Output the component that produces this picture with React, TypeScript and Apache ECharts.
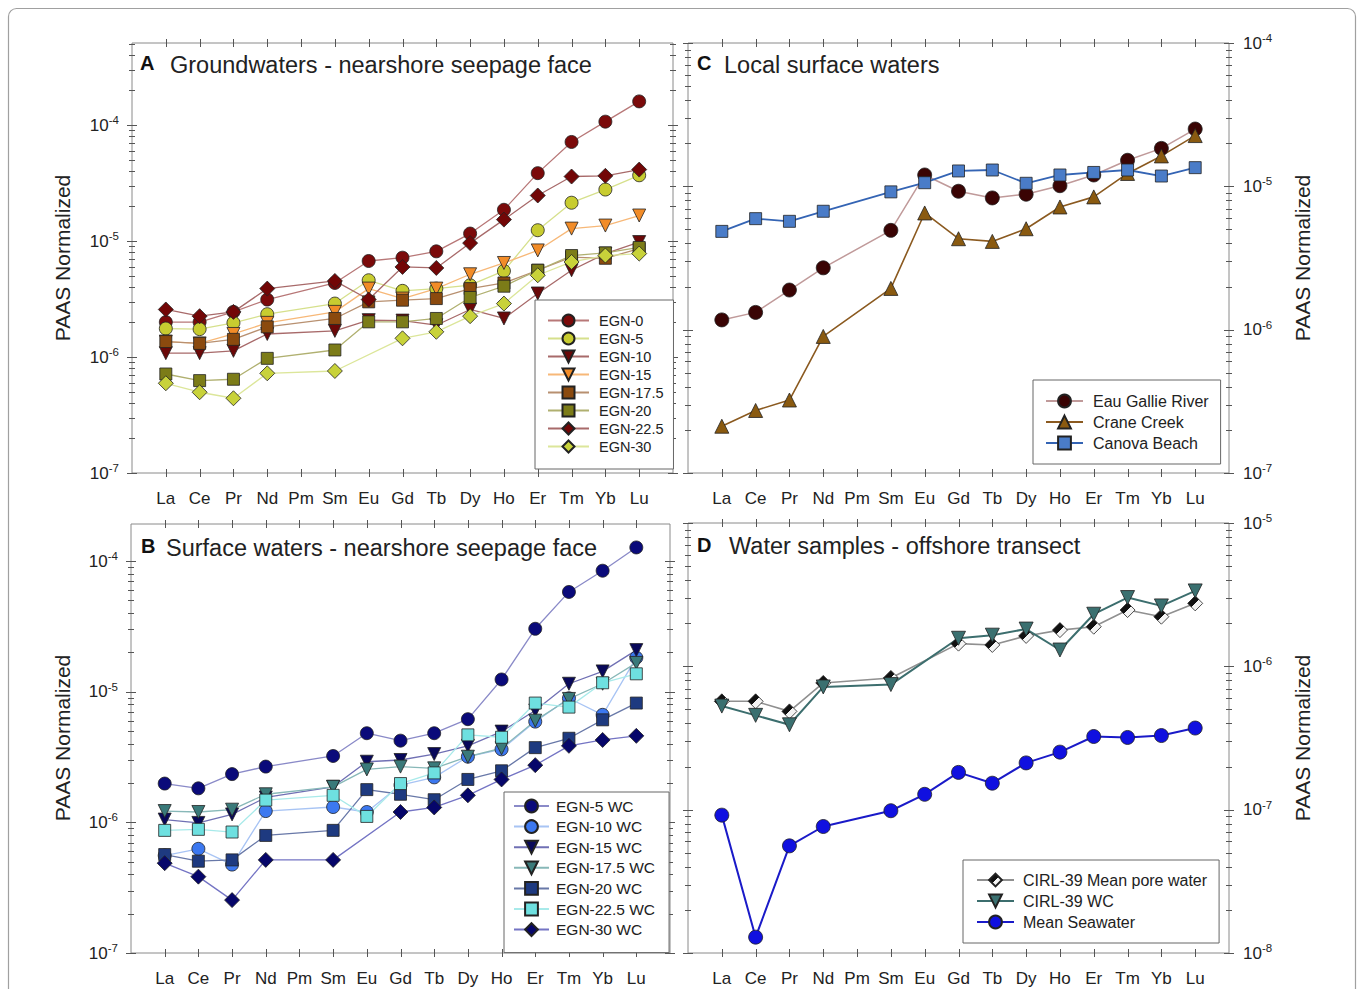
import React, { useEffect, useRef } from 'react';
import * as echarts from 'echarts';

const FONT = '"Liberation Sans", Arial, Helvetica, sans-serif';

const REE = ['La', 'Ce', 'Pr', 'Nd', 'Pm', 'Sm', 'Eu', 'Gd', 'Tb', 'Dy', 'Ho', 'Er', 'Tm', 'Yb', 'Lu'];

// Panel A - Groundwaters
const EGN_0 = [2.0e-6, 2.0e-6, 2.45e-6, 3.13e-6, null, 4.35e-6, 6.73e-6, 7.19e-6, 8.15e-6, 1.16e-5, 1.86e-5, 3.85e-5, 7.15e-5, 1.07e-4, 1.6e-4];
const EGN_5 = [1.76e-6, 1.74e-6, 1.97e-6, 2.34e-6, null, 2.89e-6, 4.59e-6, 3.72e-6, 3.89e-6, 4.16e-6, 5.52e-6, 1.24e-5, 2.14e-5, 2.78e-5, 3.69e-5];
const EGN_10 = [1.08e-6, 1.08e-6, 1.13e-6, 1.58e-6, null, 1.68e-6, 2.08e-6, 2.06e-6, 1.88e-6, 2.57e-6, 2.15e-6, 3.53e-6, 5.6e-6, 7.8e-6, 9.8e-6];
const EGN_15 = [1.36e-6, 1.31e-6, 1.58e-6, 1.97e-6, null, 2.45e-6, 3.89e-6, 3.19e-6, 3.89e-6, 5.17e-6, 6.47e-6, 8.3e-6, 1.28e-5, 1.36e-5, 1.66e-5];
const EGN_17_5 = [1.36e-6, 1.31e-6, 1.42e-6, 1.82e-6, null, 2.15e-6, 2.99e-6, 3.09e-6, 3.19e-6, 3.89e-6, 4.35e-6, 5.6e-6, 7.28e-6, 7.1e-6, 8.6e-6];
const EGN_20 = [7.14e-7, 6.26e-7, 6.43e-7, 9.74e-7, null, 1.15e-6, 2.01e-6, 2.01e-6, 2.15e-6, 3.26e-6, 4.08e-6, 5.6e-6, 7.5e-6, 7.9e-6, 8.8e-6];
const EGN_22_5 = [2.57e-6, 2.25e-6, 2.45e-6, 3.89e-6, null, 4.53e-6, 3.13e-6, 5.98e-6, 5.86e-6, 9.6e-6, 1.53e-5, 2.47e-5, 3.6e-5, 3.65e-5, 4.13e-5];
const EGN_30 = [5.94e-7, 4.97e-7, 4.41e-7, 7.24e-7, null, 7.58e-7, null, 1.45e-6, 1.65e-6, 2.25e-6, 2.89e-6, 5.07e-6, 6.6e-6, 7.5e-6, 7.8e-6];

// Panel B - Surface waters
const EGN_5_WC = [1.98e-6, 1.82e-6, 2.34e-6, 2.67e-6, null, 3.22e-6, 4.81e-6, 4.22e-6, 4.81e-6, 6.16e-6, 1.24e-5, 3.03e-5, 5.8e-5, 8.43e-5, 1.27e-4];
const EGN_10_WC = [5.57e-7, 6.27e-7, 4.75e-7, 1.22e-6, null, 1.31e-6, 1.2e-6, 1.93e-6, 2.21e-6, 3.18e-6, 3.62e-6, 5.9e-6, 8.9e-6, 6.65e-6, 1.82e-5];
const EGN_15_WC = [1.05e-6, 9.9e-7, 1.15e-6, 1.55e-6, null, 1.87e-6, 2.91e-6, 3.0e-6, 3.33e-6, 3.85e-6, 4.95e-6, 7.18e-6, 1.15e-5, 1.43e-5, 2.08e-5];
const EGN_17_5_WC = [1.22e-6, 1.2e-6, 1.25e-6, 1.64e-6, null, 1.87e-6, 2.54e-6, 2.67e-6, 2.59e-6, 3.18e-6, 3.69e-6, 6.0e-6, 8.8e-6, 1.15e-5, 1.66e-5];
const EGN_20_WC = [5.67e-7, 5.04e-7, 5.16e-7, 7.94e-7, null, 8.68e-7, 1.78e-6, 1.64e-6, 1.49e-6, 2.13e-6, 2.48e-6, 3.73e-6, 4.4e-6, 6.09e-6, 8.18e-6];
const EGN_22_5_WC = [8.68e-7, 8.84e-7, 8.43e-7, 1.48e-6, null, 1.61e-6, 1.11e-6, 1.98e-6, 2.39e-6, 4.67e-6, 4.48e-6, 8.18e-6, 7.62e-6, 1.17e-5, 1.37e-5];
const EGN_30_WC = [4.87e-7, 3.84e-7, 2.54e-7, 5.16e-7, null, 5.16e-7, null, 1.2e-6, 1.3e-6, 1.61e-6, 2.13e-6, 2.74e-6, 3.85e-6, 4.27e-6, 4.59e-6];

// Panel C - Local surface waters
const EAU_GALLIE = [1.17e-6, 1.32e-6, 1.89e-6, 2.7e-6, null, 4.93e-6, 1.2e-5, 9.24e-6, 8.3e-6, 8.81e-6, 1.01e-5, 1.2e-5, 1.52e-5, 1.84e-5, 2.51e-5];
const CRANE_CREEK = [2.12e-7, 2.73e-7, 3.23e-7, 8.97e-7, null, 1.94e-6, 6.52e-6, 4.31e-6, 4.13e-6, 5.06e-6, 7.18e-6, 8.44e-6, 1.23e-5, 1.63e-5, 2.26e-5];
const CANOVA_BEACH = [4.85e-6, 5.95e-6, 5.7e-6, 6.7e-6, null, 9.15e-6, 1.06e-5, 1.28e-5, 1.3e-5, 1.05e-5, 1.2e-5, 1.25e-5, 1.3e-5, 1.18e-5, 1.35e-5];

// Panel D - Offshore transect
const CIRL_PORE = [5.7e-7, 5.7e-7, 4.85e-7, 7.66e-7, null, 8.3e-7, null, 1.44e-6, 1.41e-6, 1.63e-6, 1.79e-6, 1.89e-6, 2.47e-6, 2.22e-6, 2.75e-6];
const CIRL_WC = [5.28e-7, 4.55e-7, 3.91e-7, 7.18e-7, null, 7.46e-7, null, 1.57e-6, 1.65e-6, 1.82e-6, 1.3e-6, 2.31e-6, 3.02e-6, 2.64e-6, 3.36e-6];
const SEAWATER = [9.16e-8, 1.29e-8, 5.59e-8, 7.63e-8, null, 9.83e-8, 1.28e-7, 1.82e-7, 1.53e-7, 2.12e-7, 2.52e-7, 3.24e-7, 3.19e-7, 3.29e-7, 3.71e-7];

const PORE_FILL = {
  type: 'linear', x: 0, y: 0, x2: 1, y2: 1,
  colorStops: [
    { offset: 0, color: '#111' }, { offset: 0.5, color: '#111' },
    { offset: 0.5, color: '#f4f4f4' }, { offset: 1, color: '#f4f4f4' },
  ],
};

type SDef = { name: string; data: (number | null)[]; symbol: string; rotate?: number; size: number; fill: any; line: string; lw: number };

const SERIES_A: SDef[] = [
  { name: 'EGN-0', data: EGN_0, symbol: 'circle', size: 13, fill: '#7b0a0a', line: '#b87878', lw: 1.3 },
  { name: 'EGN-5', data: EGN_5, symbol: 'circle', size: 13, fill: '#c8cc30', line: '#d6e08c', lw: 1.3 },
  { name: 'EGN-10', data: EGN_10, symbol: 'triangle', rotate: 180, size: 13, fill: '#6a0808', line: '#a86a6a', lw: 1.3 },
  { name: 'EGN-15', data: EGN_15, symbol: 'triangle', rotate: 180, size: 13, fill: '#f28c28', line: '#f7b878', lw: 1.3 },
  { name: 'EGN-17.5', data: EGN_17_5, symbol: 'rect', size: 12, fill: '#8b4a0e', line: '#b89070', lw: 1.3 },
  { name: 'EGN-20', data: EGN_20, symbol: 'rect', size: 12, fill: '#7c7c18', line: '#b0b070', lw: 1.3 },
  { name: 'EGN-22.5', data: EGN_22_5, symbol: 'diamond', size: 15, fill: '#720606', line: '#a86a6a', lw: 1.3 },
  { name: 'EGN-30', data: EGN_30, symbol: 'diamond', size: 15, fill: '#c8d23a', line: '#dce69a', lw: 1.3 },
];

const SERIES_B: SDef[] = [
  { name: 'EGN-5 WC', data: EGN_5_WC, symbol: 'circle', size: 13, fill: '#0a0a7a', line: '#8a8ac8', lw: 1.3 },
  { name: 'EGN-10 WC', data: EGN_10_WC, symbol: 'circle', size: 13, fill: '#3c78f0', line: '#a8c4f4', lw: 1.3 },
  { name: 'EGN-15 WC', data: EGN_15_WC, symbol: 'triangle', rotate: 180, size: 13, fill: '#08085a', line: '#7070b4', lw: 1.3 },
  { name: 'EGN-17.5 WC', data: EGN_17_5_WC, symbol: 'triangle', rotate: 180, size: 13, fill: '#3a7a7a', line: '#88b8b8', lw: 1.3 },
  { name: 'EGN-20 WC', data: EGN_20_WC, symbol: 'rect', size: 12, fill: '#1e3a80', line: '#6878a8', lw: 1.3 },
  { name: 'EGN-22.5 WC', data: EGN_22_5_WC, symbol: 'rect', size: 12, fill: '#6ee0e0', line: '#a8eaea', lw: 1.3 },
  { name: 'EGN-30 WC', data: EGN_30_WC, symbol: 'diamond', size: 15, fill: '#06066a', line: '#7474c4', lw: 1.3 },
];

const SERIES_C: SDef[] = [
  { name: 'Eau Gallie River', data: EAU_GALLIE, symbol: 'circle', size: 14, fill: '#3a0404', line: '#c09a9a', lw: 1.5 },
  { name: 'Crane Creek', data: CRANE_CREEK, symbol: 'triangle', size: 14, fill: '#8a5a10', line: '#8b5a20', lw: 1.6 },
  { name: 'Canova Beach', data: CANOVA_BEACH, symbol: 'rect', size: 12, fill: '#4a7cc8', line: '#3464b4', lw: 1.8 },
];

const SERIES_D: SDef[] = [
  { name: 'CIRL-39 Mean pore water', data: CIRL_PORE, symbol: 'diamond', size: 15, fill: PORE_FILL, line: '#909090', lw: 1.6 },
  { name: 'CIRL-39 WC', data: CIRL_WC, symbol: 'triangle', rotate: 180, size: 14, fill: '#3a7070', line: '#3c6e6e', lw: 2 },
  { name: 'Mean Seawater', data: SEAWATER, symbol: 'circle', size: 14, fill: '#1010e0', line: '#1a1ac8', lw: 2 },
];

type Panel = {
  letter: string; title: string; grid: { left: number; top: number; width: number; height: number };
  yMin: number; yMax: number; yPos: 'left' | 'right'; series: SDef[];
  legend: { left: number; top: number; padding: number[]; itemWidth: number; itemHeight: number; itemGap: number; fontSize: number; textPad: number };
  letterPos: [number, number]; titlePos: [number, number]; namePos: [number, number];
};

const PANELS: Panel[] = [
  {
    letter: 'A', title: 'Groundwaters - nearshore seepage face',
    grid: { left: 132, top: 43, width: 541, height: 430 }, yMin: 1e-7, yMax: 5.1e-4, yPos: 'left', series: SERIES_A,
    legend: { left: 535, top: 300, padding: [13, 10, 15, 12], itemWidth: 41, itemHeight: 15, itemGap: 3, fontSize: 14.5, textPad: 5 },
    letterPos: [140, 63], titlePos: [170, 65], namePos: [62, 258],
  },
  {
    letter: 'B', title: 'Surface waters - nearshore seepage face',
    grid: { left: 131, top: 524, width: 539, height: 429 }, yMin: 1e-7, yMax: 1.92e-4, yPos: 'left', series: SERIES_B,
    legend: { left: 504, top: 792, padding: [6, 14, 15, 9], itemWidth: 35, itemHeight: 16, itemGap: 4.6, fontSize: 15.5, textPad: 2 },
    letterPos: [141, 546], titlePos: [166, 548], namePos: [62, 738],
  },
  {
    letter: 'C', title: 'Local surface waters',
    grid: { left: 688, top: 43, width: 541, height: 430 }, yMin: 1e-7, yMax: 1e-4, yPos: 'right', series: SERIES_C,
    legend: { left: 1033, top: 380, padding: [13, 12, 13, 12], itemWidth: 37, itemHeight: 16, itemGap: 5, fontSize: 16, textPad: 5 },
    letterPos: [697, 63], titlePos: [724, 65], namePos: [1302, 258],
  },
  {
    letter: 'D', title: 'Water samples - offshore transect',
    grid: { left: 688, top: 523, width: 541, height: 430 }, yMin: 1e-8, yMax: 1e-5, yPos: 'right', series: SERIES_D,
    legend: { left: 963, top: 860, padding: [12, 12, 13, 13], itemWidth: 37, itemHeight: 16, itemGap: 5, fontSize: 16, textPad: 4 },
    letterPos: [697, 545], titlePos: [729, 546], namePos: [1302, 738],
  },
];

const toPairs = (vals: (number | null)[]) =>
  vals.map((v, i) => (v == null ? null : [i + 1, v])).filter((p) => p != null);

function tickSeries(pi: number, yMin: number, yMax: number) {
  const data: number[][] = [];
  for (let i = 1; i <= REE.length; i++) data.push([i, yMin, 0]);
  const e0 = Math.round(Math.log10(yMin));
  const e1 = Math.ceil(Math.log10(yMax));
  for (let e = e0; e <= e1; e++) {
    for (let m = 1; m <= 9; m++) {
      const v = m * Math.pow(10, e);
      if (v >= yMin * 0.9999 && v <= yMax * 1.0001) data.push([0, v, m === 1 ? 1 : 2]);
    }
  }
  return {
    type: 'custom',
    xAxisIndex: pi,
    yAxisIndex: pi,
    silent: true,
    clip: false,
    z: 3,
    data,
    renderItem: (params: any, api: any) => {
      const kind = api.value(2);
      const st = { stroke: '#555', lineWidth: 1 };
      if (kind === 0) {
        const x = api.value(0);
        const b = api.coord([x, yMin]);
        const t = api.coord([x, yMax]);
        const bx = Math.round(b[0]) + 0.5;
        return {
          type: 'group',
          children: [
            { type: 'line', shape: { x1: bx, y1: b[1] - 4, x2: bx, y2: b[1] + 4 }, style: st },
            { type: 'line', shape: { x1: bx, y1: t[1] - 4, x2: bx, y2: t[1] + 4 }, style: st },
          ],
        };
      }
      const v = api.value(1);
      const l = api.coord([0, v]);
      const r = api.coord([16, v]);
      const L = kind === 1 ? 5 : 3;
      const y = Math.round(l[1]) + 0.5;
      return {
        type: 'group',
        children: [
          { type: 'line', shape: { x1: l[0] - L, y1: y, x2: l[0] + L, y2: y }, style: st },
          { type: 'line', shape: { x1: r[0] - L, y1: y, x2: r[0] + L, y2: y }, style: st },
        ],
      };
    },
  };
}

function buildOption() {
  const grid: any[] = [];
  const xAxis: any[] = [];
  const yAxis: any[] = [];
  const series: any[] = [];
  const legend: any[] = [];
  const graphic: any[] = [
    {
      type: 'rect', silent: true, z: -10,
      shape: { x: 8.5, y: 8.5, width: 1347, height: 1000, r: 8 },
      style: { fill: 'none', stroke: '#a0a0a0', lineWidth: 1.2 },
    },
  ];

  PANELS.forEach((p, pi) => {
    grid.push({ ...p.grid, show: true, borderColor: '#8a8a8a', borderWidth: 1, backgroundColor: 'transparent', containLabel: false });
    xAxis.push({
      type: 'value', gridIndex: pi, min: 0, max: 16, interval: 1,
      axisLine: { show: false }, axisTick: { show: false }, splitLine: { show: false },
      axisLabel: {
        margin: 17, fontSize: 17, fontFamily: FONT, color: '#222',
        formatter: (v: number) => REE[Math.round(v) - 1] ?? '',
      },
    });
    yAxis.push({
      type: 'log', logBase: 10, gridIndex: pi, min: p.yMin, max: p.yMax, position: p.yPos,
      axisLine: { show: false }, axisTick: { show: false }, splitLine: { show: false }, minorTick: { show: false },
      axisLabel: {
        margin: p.yPos === 'left' ? 13 : 14, showMinLabel: true, showMaxLabel: true,
        formatter: (v: number) => {
          const e = Math.log10(v);
          if (Math.abs(e - Math.round(e)) > 1e-6) return '';
          return '{b|10}{s|' + Math.round(e) + '}';
        },
        rich: {
          b: { fontSize: 17, fontFamily: FONT, color: '#222', lineHeight: 22 },
          s: { fontSize: 11.5, fontFamily: FONT, color: '#222', verticalAlign: 'top', lineHeight: 14 },
        },
      },
    });

    series.push(tickSeries(pi, p.yMin, p.yMax));

    p.series.forEach((s) => {
      series.push({
        type: 'line', name: s.name, xAxisIndex: pi, yAxisIndex: pi,
        data: toPairs(s.data),
        symbol: s.symbol, symbolSize: s.size, symbolRotate: s.rotate ?? 0, showAllSymbol: true,
        lineStyle: { color: s.line, width: s.lw },
        itemStyle: { color: s.fill, borderColor: '#222', borderWidth: 0.8 },
        emphasis: { disabled: true },
        z: 10,
      });
    });

    legend.push({
      data: p.series.map((s) => s.name),
      orient: 'vertical', left: p.legend.left, top: p.legend.top,
      padding: p.legend.padding, itemWidth: p.legend.itemWidth, itemHeight: p.legend.itemHeight, itemGap: p.legend.itemGap,
      backgroundColor: '#ffffff', borderColor: '#666', borderWidth: 1, borderRadius: 0,
      selectedMode: false, z: 20,
      textStyle: { fontSize: p.legend.fontSize, fontFamily: FONT, color: '#222', padding: [0, 0, 0, p.legend.textPad] },
    });

    graphic.push({
      type: 'text', x: p.letterPos[0], y: p.letterPos[1], z: 30,
      style: { text: p.letter, font: 'bold 20px ' + FONT, fill: '#111', align: 'left', verticalAlign: 'middle' },
    });
    graphic.push({
      type: 'text', x: p.titlePos[0], y: p.titlePos[1], z: 30,
      style: { text: p.title, font: '23.5px ' + FONT, fill: '#222', align: 'left', verticalAlign: 'middle' },
    });
    graphic.push({
      type: 'text', x: p.namePos[0], y: p.namePos[1], rotation: Math.PI / 2, z: 30,
      style: { text: 'PAAS Normalized', font: '21px ' + FONT, fill: '#222', align: 'center', verticalAlign: 'middle' },
    });
  });

  return { animation: false, backgroundColor: '#ffffff', grid, xAxis, yAxis, series, legend, graphic };
}

export default function App() {
  const ref = useRef<HTMLDivElement>(null);
  useEffect(() => {
    const chart = echarts.init(ref.current as HTMLDivElement, null, { renderer: 'svg' });
    chart.setOption(buildOption() as any);
    return () => chart.dispose();
  }, []);
  return <div ref={ref} style={{ position: 'absolute', left: 0, top: 0, width: 1358, height: 989, background: '#fff' }} />;
}
